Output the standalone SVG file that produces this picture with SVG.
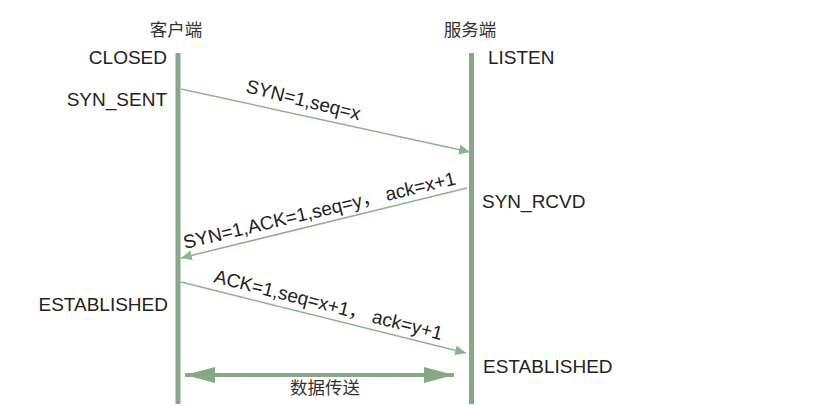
<svg xmlns="http://www.w3.org/2000/svg" width="820" height="406" viewBox="0 0 820 406">
<style>
text{font-family:"Liberation Sans",Arial,"Noto Sans CJK SC",sans-serif;fill:#222;font-size:19px}
.lbl{font-size:19px}
.cjk{font-family:"Noto Sans CJK SC","Liberation Sans",sans-serif;font-size:17.5px;fill:#333}
.life{stroke:#86a886;stroke-width:5;fill:none}
.msg{stroke:#8db58d;stroke-width:1.5;fill:none}
.data{stroke:#86a886;stroke-width:4;fill:none}
</style>
<defs>
<marker id="ah" viewBox="0 0 11 10" refX="11" refY="5" markerWidth="11" markerHeight="10" markerUnits="userSpaceOnUse" orient="auto">
<path d="M0,0 L11,5 L0,10 Z" fill="#8db58d"/>
</marker>
<marker id="big" viewBox="0 0 30 16" refX="30" refY="8" markerWidth="30" markerHeight="16" markerUnits="userSpaceOnUse" orient="auto-start-reverse">
<path d="M0,0 L30,8 L0,16 Z" fill="#86a886"/>
</marker>
</defs>
<g id="client">
<text class="cjk" x="176" y="36" text-anchor="middle">客户端</text>
<line class="life" x1="178" y1="53" x2="178" y2="404"/>
<text x="167" y="64" text-anchor="end">CLOSED</text>
<text x="167" y="106" text-anchor="end">SYN_SENT</text>
<text x="168" y="311" text-anchor="end">ESTABLISHED</text>
</g>
<g id="server">
<text class="cjk" x="470" y="36" text-anchor="middle">服务端</text>
<line class="life" x1="471.5" y1="53" x2="471.5" y2="404"/>
<text x="488" y="64">LISTEN</text>
<text x="482" y="208">SYN_RCVD</text>
<text x="483" y="373">ESTABLISHED</text>
</g>
<g id="connectors">
<line class="msg" x1="181" y1="89" x2="470" y2="152" marker-end="url(#ah)"/>
<line class="msg" x1="467" y1="188" x2="181" y2="258" marker-end="url(#ah)"/>
<line class="msg" x1="181" y1="282" x2="466" y2="353" marker-end="url(#ah)"/>
<line class="data" x1="185" y1="375" x2="454" y2="375" marker-start="url(#big)" marker-end="url(#big)"/>
</g>
<g id="labels">
<text class="lbl" transform="translate(245,92) rotate(14)">SYN=1,seq=x</text>
<text class="lbl" transform="translate(185,249) rotate(-13.4)">SYN=1,ACK=1,seq=y， ack=x+1</text>
<text class="lbl" transform="translate(213,282) rotate(14.3)">ACK=1,seq=x+1， ack=y+1</text>
<text class="cjk" x="325" y="394" text-anchor="middle">数据传送</text>
</g>
</svg>
